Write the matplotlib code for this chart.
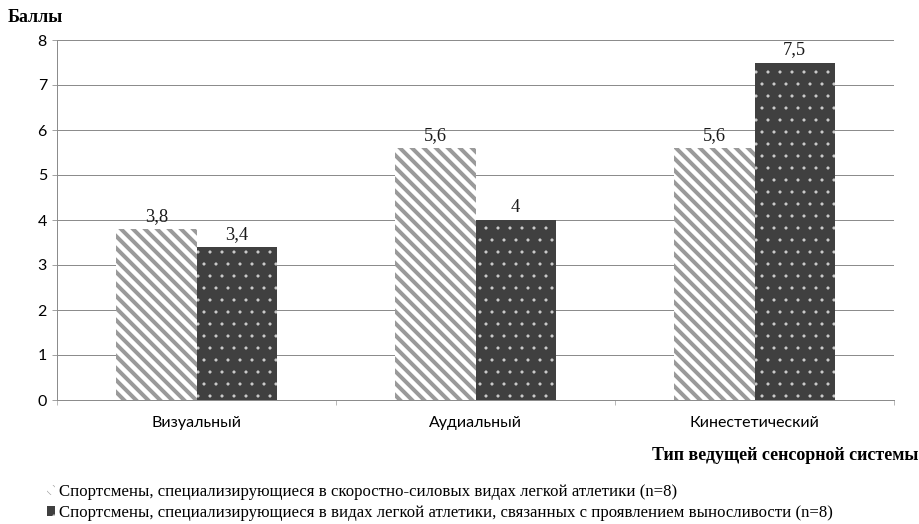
import numpy as np
import matplotlib
matplotlib.use("Agg")
import matplotlib.pyplot as plt

# Scores by leading sensory system
categories = ["Визуальный", "Аудиальный", "Кинестетический"]
speed_strength = [3.8, 5.6, 5.6]
endurance = [3.4, 4.0, 7.5]
series_names = [
    "Спортсмены, специализирующиеся в скоростно-силовых видах легкой атлетики (n=8)",
    "Спортсмены, специализирующиеся в видах легкой атлетики, связанных с проявлением выносливости (n=8)",
]

serif = ["Liberation Serif", "DejaVu Serif"]
sans = ["Lato", "DejaVu Sans"]
grid_col = "#8c8c8c"

fig = plt.figure(figsize=(919 / 72, 524 / 72), dpi=72)
ax = fig.add_axes([57 / 919, 1 - 400 / 524, (894 - 57) / 919, 360 / 524])

x = np.arange(len(categories))
w = 0.287
# hatch line width is picked up when each bar is created
plt.rcParams["hatch.linewidth"] = 4.0
b1 = ax.bar(x - w / 2, speed_strength, w, color="white", edgecolor="#9a9a9a",
            hatch="\\\\", linewidth=0, label=series_names[0], zorder=3)
plt.rcParams["hatch.linewidth"] = 0.6
b2 = ax.bar(x + w / 2, endurance, w, color="#404040", edgecolor="#d0d0d0",
            hatch=".", linewidth=0, label=series_names[1], zorder=3)

fmt = lambda v: f"{v:g}".replace(".", ",")
for bars, vals in ((b1, speed_strength), (b2, endurance)):
    ax.bar_label(bars, labels=[fmt(v) for v in vals], padding=4,
                 fontsize=18.5, family=serif, color="#1a1a1a")

ax.set_xlim(-0.5, 2.5)
ax.set_ylim(0, 8)
ax.set_yticks(range(9))
ax.set_xticks(x)
ax.set_xticklabels(categories)
ax.set_xticks([-0.5, 0.5, 1.5, 2.5], minor=True)
ax.tick_params(axis="x", which="major", length=0, pad=16, labelsize=16)
ax.tick_params(axis="x", which="minor", length=5, color=grid_col)
ax.tick_params(axis="y", length=5, color=grid_col, labelsize=16, pad=5)
for lab in ax.get_xticklabels() + ax.get_yticklabels():
    lab.set_family(sans)

ax.yaxis.grid(True, color=grid_col, linewidth=1, zorder=0)
for s in ("top", "right"):
    ax.spines[s].set_visible(False)
for s in ("left", "bottom"):
    ax.spines[s].set_color(grid_col)
    ax.spines[s].set_linewidth(1)

fig.text(8 / 919, 1 - 18 / 524, "Баллы", fontsize=18, fontweight="bold",
         family=serif, va="center", ha="left")
fig.text(918 / 919, 1 - 456 / 524, "Тип ведущей сенсорной системы", fontsize=18,
         fontweight="bold", family=serif, va="center", ha="right")

leg = fig.legend(handles=[b1, b2], loc="upper left",
                 bbox_to_anchor=(47 / 919, 1 - 484 / 524), frameon=False,
                 prop={"family": serif, "size": 16.7}, handlelength=0.5,
                 handleheight=0.5, handletextpad=0.2, labelspacing=0.3,
                 borderpad=0, borderaxespad=0)

fig.savefig("out.png", dpi=72)
